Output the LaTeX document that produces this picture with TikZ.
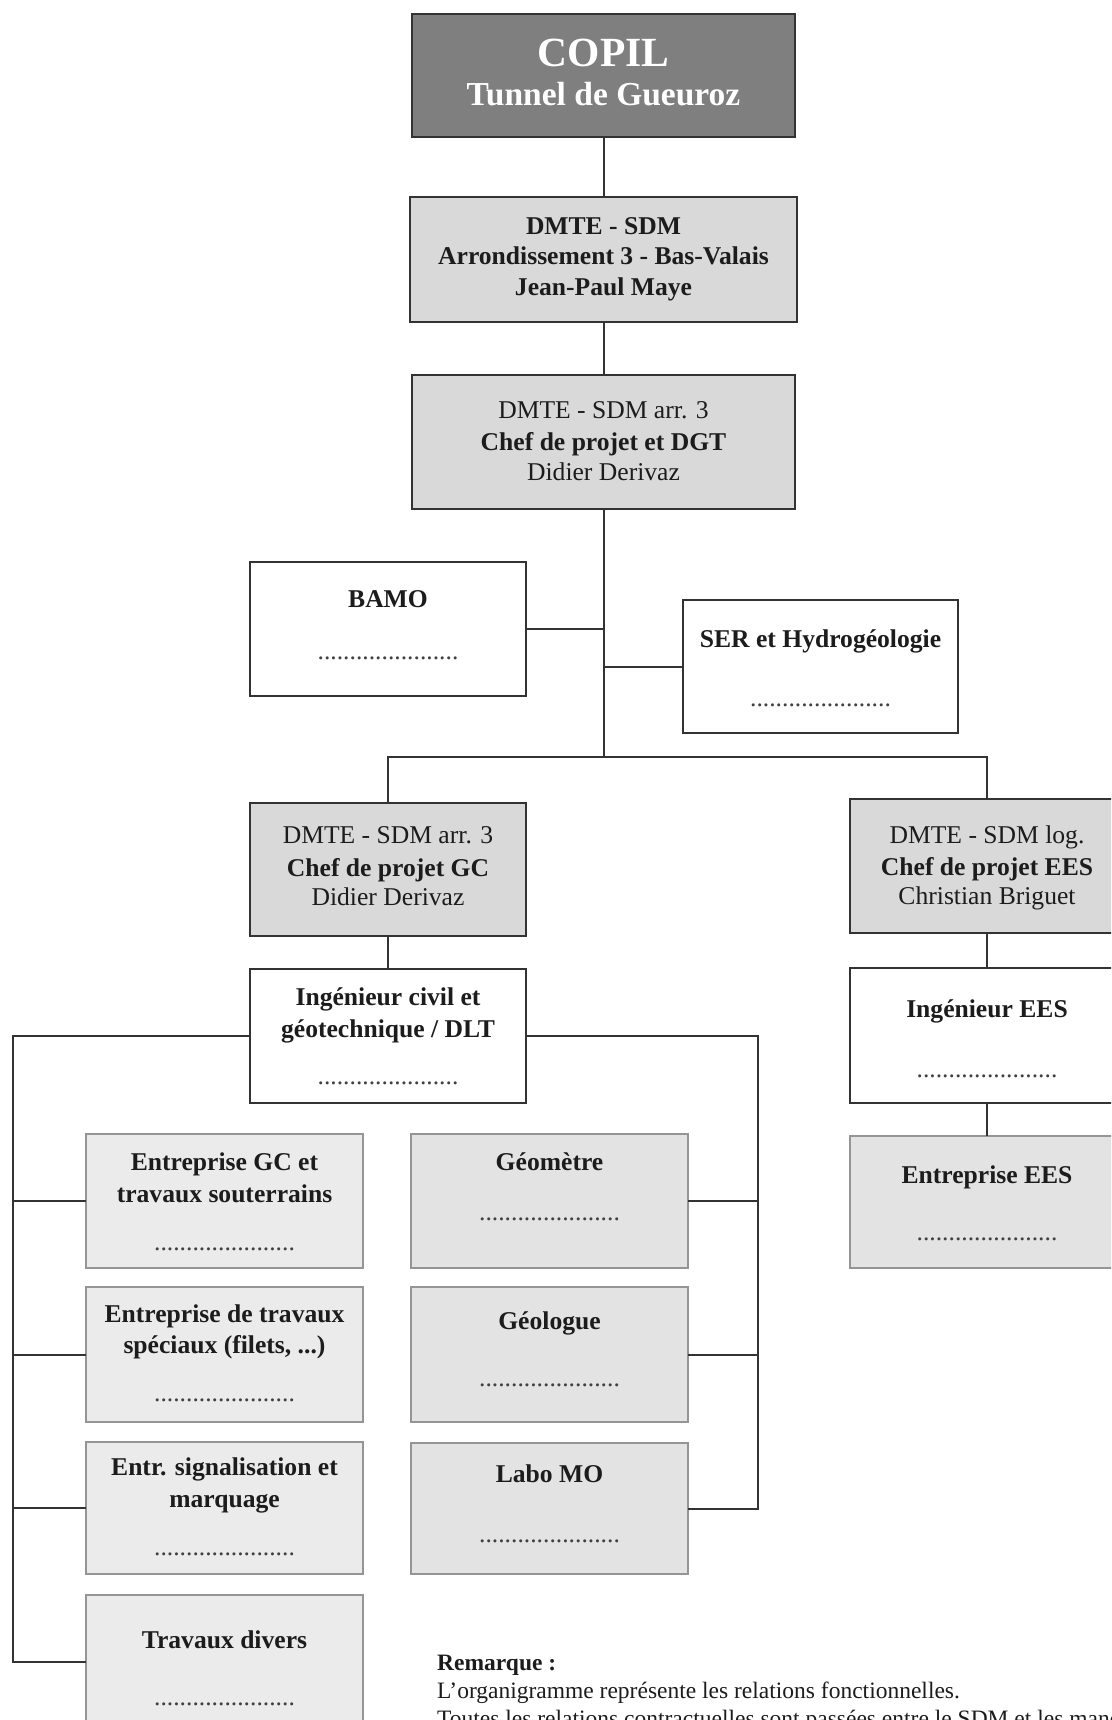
\documentclass[tikz,border=0pt]{standalone}
\usepackage{fontspec}
\setmainfont{Liberation Serif}
\definecolor{gdark}{HTML}{7F7F7F}
\definecolor{gmid}{HTML}{D9D9D9}
\definecolor{glight}{HTML}{EBEBEB}
\definecolor{glight2}{HTML}{E3E3E3}
\definecolor{lin}{HTML}{333333}
\definecolor{lin2}{HTML}{959595}
\definecolor{txt}{HTML}{1C1C1C}
\begin{document}
\begin{tikzpicture}[x=1pt,y=-1pt,
  box/.style={draw=lin, line width=2pt, anchor=north west, inner sep=0pt, outer sep=0pt},
  softbox/.style={draw=lin2, line width=2pt, anchor=north west, inner sep=0pt, outer sep=0pt},
  conn/.style={draw=lin, line width=2pt},
  t/.style={anchor=base, inner sep=0pt, text=txt, font=\fontsize{25.6}{30}\selectfont},
  tb/.style={t, font=\fontsize{25.6}{30}\selectfont\bfseries},
  dl/.style={t, text=black!75},
  note/.style={anchor=base west, inner sep=0pt, text=txt, font=\fontsize{23.5}{28}\selectfont}]
\useasboundingbox (0,0) rectangle (1111,1720);
\clip (0,0) rectangle (1111,1720);
\fill[white] (0,0) rectangle (1111,1720);

% boxes
\node[box, fill=gdark, minimum width=383pt, minimum height=123pt] (copil) at (412,14) {};
\node[box, fill=gmid, minimum width=387pt, minimum height=125pt] (sdm) at (410,197) {};
\node[box, fill=gmid, minimum width=383pt, minimum height=134pt] (dgt) at (412,375) {};
\node[box, fill=white, minimum width=276pt, minimum height=134pt] (bamo) at (250,562) {};
\node[box, fill=white, minimum width=275pt, minimum height=133pt] (ser) at (683,600) {};
\node[box, fill=gmid, minimum width=276pt, minimum height=133pt] (gc) at (250,803) {};
\node[box, fill=gmid, minimum width=274pt, minimum height=134pt] (ees) at (850,799) {};
\node[box, fill=white, minimum width=276pt, minimum height=134pt] (ing) at (250,969) {};
\node[box, fill=white, minimum width=274pt, minimum height=135pt] (inges) at (850,968) {};
\node[softbox, fill=glight2, minimum width=274pt, minimum height=132pt] (entees) at (850,1136) {};
\node[softbox, fill=glight, minimum width=277pt, minimum height=134pt] (e1) at (86,1134) {};
\node[softbox, fill=glight, minimum width=277pt, minimum height=135pt] (e2) at (86,1287) {};
\node[softbox, fill=glight, minimum width=277pt, minimum height=132pt] (e3) at (86,1442) {};
\node[softbox, fill=glight, minimum width=277pt, minimum height=134pt] (e4) at (86,1595) {};
\node[softbox, fill=glight2, minimum width=277pt, minimum height=134pt] (geo) at (411,1134) {};
\node[softbox, fill=glight2, minimum width=277pt, minimum height=135pt] (geol) at (411,1287) {};
\node[softbox, fill=glight2, minimum width=277pt, minimum height=131pt] (labo) at (411,1443) {};

% connectors
\coordinate (bar) at (603.5,757);
\coordinate (lx) at (13,0);
\coordinate (rx) at (758,0);
\draw[conn] (copil.south) -- (sdm.north);
\draw[conn] (sdm.south) -- (dgt.north);
\draw[conn] (dgt.south) -- (bar);
\draw[conn] (bamo.east) -- (bamo.east -| dgt.south);
\draw[conn] (ser.west) -- (ser.west -| dgt.south);
\draw[conn] (gc.north) |- (bar) -| (ees.north);
\draw[conn] (gc.south) -- (ing.north);
\draw[conn] (ees.south) -- (inges.north);
\draw[conn] (inges.south) -- (entees.north);
\draw[conn] (ing.west) -| (lx |- e4.west) -- (e4.west);
\draw[conn] (lx |- e1.west) -- (e1.west);
\draw[conn] (lx |- e2.west) -- (e2.west);
\draw[conn] (lx |- e3.west) -- (e3.west);
\draw[conn] (ing.east) -| (rx |- labo.east) -- (labo.east);
\draw[conn] (rx |- geo.east) -- (geo.east);
\draw[conn] (rx |- geol.east) -- (geol.east);

% texts
\node[anchor=base, inner sep=0pt, text=white, font=\fontsize{41.5}{44}\selectfont\bfseries] (copil-1) at (603.5,67) {COPIL};
\node[anchor=base, inner sep=0pt, text=white, font=\fontsize{33.5}{38}\selectfont\bfseries] (copil-2) at (603.5,106) {Tunnel de Gueuroz};

\node[tb] (sdm-1) at (603.5,235) {DMTE - SDM};
\node[tb] (sdm-2) at (603.5,265) {Arrondissement 3 - Bas-Valais};
\node[tb] (sdm-3) at (603.5,295) {Jean-Paul Maye};

\node[t] (dgt-1) at (603.5,418) {DMTE - SDM arr. 3};
\node[tb] (dgt-2) at (603.5,450) {Chef de projet et DGT};
\node[t] (dgt-3) at (603.5,480) {Didier Derivaz};

\node[tb] (bamo-1) at (388,607) {BAMO};
\node[dl] (bamo-d) at (388,659) {......................};

\node[tb] (ser-1) at (820.5,647) {SER et Hydrogéologie};
\node[dl] (ser-d) at (820.5,706) {......................};

\node[t] (gc-1) at (388,843) {DMTE - SDM arr. 3};
\node[tb] (gc-2) at (388,876) {Chef de projet GC};
\node[t] (gc-3) at (388,905) {Didier Derivaz};

\node[t] (ees-1) at (987,843) {DMTE - SDM log.};
\node[tb] (ees-2) at (987,875) {Chef de projet EES};
\node[t] (ees-3) at (987,904) {Christian Briguet};

\node[tb] (ing-1) at (388,1005) {Ingénieur civil et};
\node[tb] (ing-2) at (388,1037) {géotechnique / DLT};
\node[dl] (ing-d) at (388,1084) {......................};

\node[tb] (inges-1) at (987,1017) {Ingénieur EES};
\node[dl] (inges-d) at (987,1077) {......................};

\node[tb] (entees-1) at (987,1183) {Entreprise EES};
\node[dl] (entees-d) at (987,1240) {......................};

\node[tb] (e1-1) at (224.5,1170) {Entreprise GC et};
\node[tb] (e1-2) at (224.5,1202) {travaux souterrains};
\node[dl] (e1-d) at (224.5,1250) {......................};

\node[tb] (e2-1) at (224.5,1322) {Entreprise de travaux};
\node[tb] (e2-2) at (224.5,1353) {spéciaux (filets, ...)};
\node[dl] (e2-d) at (224.5,1401) {......................};

\node[tb] (e3-1) at (224.5,1475) {Entr. signalisation et};
\node[tb] (e3-2) at (224.5,1507) {marquage};
\node[dl] (e3-d) at (224.5,1555) {......................};

\node[tb] (e4-1) at (224.5,1648) {Travaux divers};
\node[dl] (e4-d) at (224.5,1705) {......................};

\node[tb] (geo-1) at (549.5,1170) {Géomètre};
\node[dl] (geo-d) at (549.5,1220) {......................};

\node[tb] (geol-1) at (549.5,1329) {Géologue};
\node[dl] (geol-d) at (549.5,1386) {......................};

\node[tb] (labo-1) at (549.5,1482) {Labo MO};
\node[dl] (labo-d) at (549.5,1542) {......................};

% note
\node[note] (note-1) at (437,1670) {\textbf{Remarque :}};
\node[note] (note-2) at (437,1698) {L’organigramme représente les relations fonctionnelles.};
\node[note] (note-3) at (437,1726) {Toutes les relations contractuelles sont passées entre le SDM et les mandataires.};
\end{tikzpicture}
\end{document}
